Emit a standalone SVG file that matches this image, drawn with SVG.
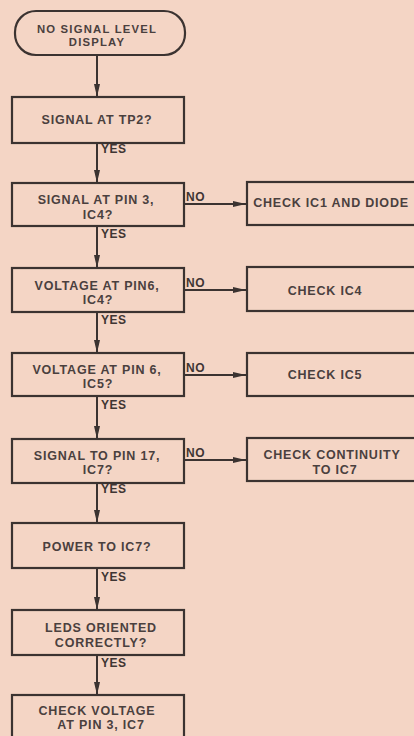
<svg xmlns="http://www.w3.org/2000/svg" width="414" height="736" viewBox="0 0 414 736">
<style>
.bg{fill:#f4d5c5}
.box{fill:none;stroke:#3b3331;stroke-width:2.2}
.t{font-family:"Liberation Sans",Arial,sans-serif;font-weight:bold;font-size:12.5px;letter-spacing:0.8px;fill:#4a403e;text-anchor:middle}
.ts{font-size:11.3px;letter-spacing:1.2px}
.lbl{font-family:"Liberation Sans",Arial,sans-serif;font-weight:bold;font-size:12px;letter-spacing:0.5px;fill:#3f3634}
.c{fill:none;stroke:#3b3331;stroke-width:2}
</style>
<defs>
<marker id="ah" markerWidth="13" markerHeight="6" refX="13" refY="3" orient="auto" markerUnits="userSpaceOnUse">
<path d="M0,0 L13,3 L0,6 Z" fill="#3b3331"/>
</marker>
</defs>
<rect class="bg" x="0" y="0" width="414" height="736"/>

<g id="start">
<rect class="box" x="15" y="11" width="170" height="44" rx="21" ry="21"/>
<text class="t ts" x="97" y="33">NO SIGNAL LEVEL</text>
<text class="t ts" x="97" y="46">DISPLAY</text>
</g>
<g id="tp2">
<rect class="box" x="12" y="97" width="172" height="46"/>
<text class="t" x="97" y="124">SIGNAL AT TP2?</text>
</g>
<g id="pin3ic4">
<rect class="box" x="12" y="183" width="172" height="43"/>
<text class="t" x="96" y="204">SIGNAL AT PIN 3,</text>
<text class="t" x="98" y="219">IC4?</text>
</g>
<g id="pin6ic4">
<rect class="box" x="12" y="268" width="172" height="44"/>
<text class="t" x="97" y="290">VOLTAGE AT PIN6,</text>
<text class="t" x="98" y="304">IC4?</text>
</g>
<g id="pin6ic5">
<rect class="box" x="12" y="353" width="172" height="43"/>
<text class="t" x="97" y="374">VOLTAGE AT PIN 6,</text>
<text class="t" x="98" y="388">IC5?</text>
</g>
<g id="pin17ic7">
<rect class="box" x="12" y="439" width="172" height="44"/>
<text class="t" x="97" y="460">SIGNAL TO PIN 17,</text>
<text class="t" x="98" y="474">IC7?</text>
</g>
<g id="poweric7">
<rect class="box" x="12" y="523" width="172" height="45"/>
<text class="t" x="97" y="551">POWER TO IC7?</text>
</g>
<g id="leds">
<rect class="box" x="12" y="610" width="172" height="45"/>
<text class="t" x="101" y="632">LEDS ORIENTED</text>
<text class="t" x="101" y="647">CORRECTLY?</text>
</g>
<g id="checkvolt">
<rect class="box" x="12" y="695" width="172" height="60"/>
<text class="t" x="97" y="715">CHECK VOLTAGE</text>
<text class="t" x="101" y="729">AT PIN 3, IC7</text>
</g>

<g id="checkic1">
<rect class="box" x="247" y="182" width="180" height="43"/>
<text class="t" x="331" y="207">CHECK IC1 AND DIODE</text>
</g>
<g id="checkic4">
<rect class="box" x="247" y="267" width="180" height="44"/>
<text class="t" x="325" y="295">CHECK IC4</text>
</g>
<g id="checkic5">
<rect class="box" x="247" y="353" width="180" height="43"/>
<text class="t" x="325" y="379">CHECK IC5</text>
</g>
<g id="checkcont">
<rect class="box" x="247" y="438" width="180" height="43"/>
<text class="t" x="332" y="459">CHECK CONTINUITY</text>
<text class="t" x="335" y="474">TO IC7</text>
</g>

<g id="connectors">
<line class="c" x1="97" y1="55" x2="97" y2="97" marker-end="url(#ah)"/>
<line class="c" x1="97" y1="143" x2="97" y2="183" marker-end="url(#ah)"/>
<line class="c" x1="97" y1="226" x2="97" y2="268" marker-end="url(#ah)"/>
<line class="c" x1="97" y1="312" x2="97" y2="353" marker-end="url(#ah)"/>
<line class="c" x1="97" y1="396" x2="97" y2="439" marker-end="url(#ah)"/>
<line class="c" x1="97" y1="483" x2="97" y2="523" marker-end="url(#ah)"/>
<line class="c" x1="97" y1="568" x2="97" y2="610" marker-end="url(#ah)"/>
<line class="c" x1="97" y1="655" x2="97" y2="695" marker-end="url(#ah)"/>
<line class="c" x1="184" y1="204" x2="246" y2="204" marker-end="url(#ah)"/>
<line class="c" x1="184" y1="290" x2="246" y2="290" marker-end="url(#ah)"/>
<line class="c" x1="184" y1="375" x2="246" y2="375" marker-end="url(#ah)"/>
<line class="c" x1="184" y1="460" x2="246" y2="460" marker-end="url(#ah)"/>
<text class="lbl" x="101" y="153">YES</text>
<text class="lbl" x="101" y="238">YES</text>
<text class="lbl" x="101" y="324">YES</text>
<text class="lbl" x="101" y="409">YES</text>
<text class="lbl" x="101" y="493">YES</text>
<text class="lbl" x="101" y="581">YES</text>
<text class="lbl" x="101" y="667">YES</text>
<text class="lbl" x="186" y="201">NO</text>
<text class="lbl" x="186" y="287">NO</text>
<text class="lbl" x="186" y="372">NO</text>
<text class="lbl" x="186" y="457">NO</text>
</g>
</svg>
